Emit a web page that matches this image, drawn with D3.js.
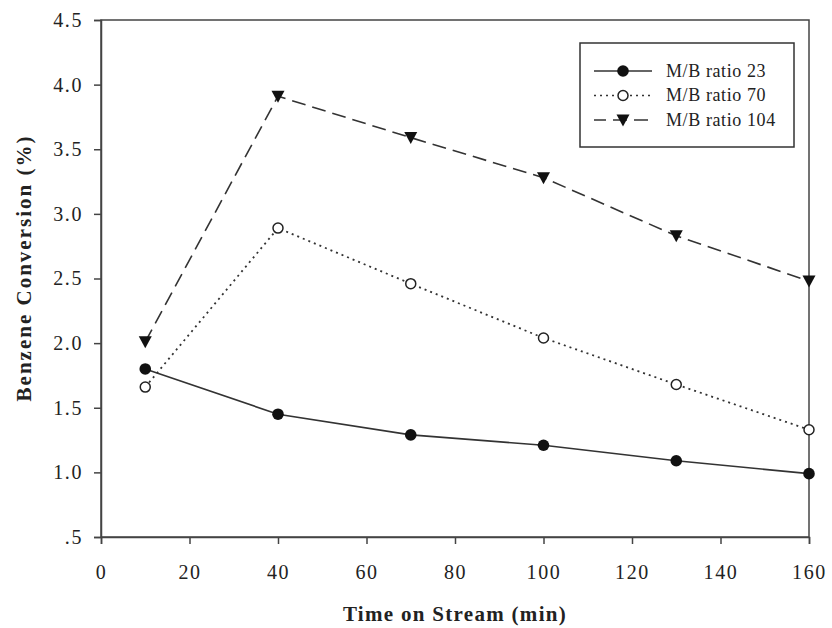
<!DOCTYPE html>
<html><head><meta charset="utf-8">
<script src="https://cdn.jsdelivr.net/npm/d3@7"></script>
<style>body{margin:0;background:#fff}svg{display:block}text{font-family:"Liberation Serif","Times New Roman",serif;fill:#222}</style>
</head><body>
<script>
const times = [10, 40, 70, 100, 130, 160];
const ratio23 = [1.80, 1.45, 1.29, 1.21, 1.09, 0.99];
const ratio70 = [1.66, 2.89, 2.46, 2.04, 1.68, 1.33];
const ratio104 = [2.01, 3.91, 3.59, 3.28, 2.83, 2.48];
const seriesNames = ["M/B ratio 23", "M/B ratio 70", "M/B ratio 104"];
const xTicks = [0, 20, 40, 60, 80, 100, 120, 140, 160];
const yTicks = [0.5, 1.0, 1.5, 2.0, 2.5, 3.0, 3.5, 4.0, 4.5];

const W = 832, H = 628;
const L = 101, R = 809, T = 20, B = 537;
const svg = d3.select("body").append("svg").attr("width", W).attr("height", H);
const x = d3.scaleLinear().domain([0, 160]).range([L, R]);
const y = d3.scaleLinear().domain([0.5, 4.5]).range([B, T]);
const stroke = "#333";

// frame
svg.append("rect").attr("x", L).attr("y", T).attr("width", R - L).attr("height", B - T)
  .attr("fill", "none").attr("stroke", "#444").attr("stroke-width", 1.5);

const xa = svg.append("g").attr("transform", `translate(0,${B})`)
  .call(d3.axisBottom(x).tickValues(xTicks).tickSize(7).tickPadding(21).tickFormat(d3.format("d")));
const ya = svg.append("g").attr("transform", `translate(${L},0)`)
  .call(d3.axisLeft(y).tickValues(yTicks).tickSize(7).tickPadding(11)
    .tickFormat(d => d === 0.5 ? ".5" : d3.format(".1f")(d)));
[xa, ya].forEach(g => {
  g.attr("font-size", 20).attr("font-family", "'Liberation Serif',serif");
  g.select(".domain").attr("stroke", "#444").attr("stroke-width", 1.5);
  g.selectAll(".tick line").attr("stroke", "#444").attr("stroke-width", 1.5);
  g.selectAll("text").style("font-family", "'Liberation Serif',serif").style("font-size", "20px")
    .style("letter-spacing", "1.6px").attr("fill", "#222");
});

const data = [ratio23, ratio70, ratio104];
const dashes = [null, "2,4", "14,7"];
const line = d3.line().x((d, i) => x(times[i])).y(d => y(d));
data.forEach((vals, k) => {
  svg.append("path").attr("d", line(vals)).attr("fill", "none").attr("stroke", stroke)
    .attr("stroke-width", k === 1 ? 1.8 : 1.6).attr("stroke-dasharray", dashes[k]);
});
function marker(g, k, cx, cy) {
  if (k === 0) g.append("circle").attr("cx", cx).attr("cy", cy).attr("r", 5.8).attr("fill", "#111");
  else if (k === 1) g.append("circle").attr("cx", cx).attr("cy", cy).attr("r", 5).attr("fill", "#fff").attr("stroke", "#222").attr("stroke-width", 1.5);
  else g.append("path").attr("d", `M${cx-6.5},${cy-5.5}L${cx+6.5},${cy-5.5}L${cx},${cy+6.5}Z`).attr("fill", "#111");
}
data.forEach((vals, k) => vals.forEach((v, i) => marker(svg, k, x(times[i]), y(v))));

// legend
const lg = svg.append("g");
lg.append("rect").attr("x", 580).attr("y", 43).attr("width", 214).attr("height", 104)
  .attr("fill", "#fff").attr("stroke", "#333").attr("stroke-width", 1.5);
seriesNames.forEach((n, k) => {
  const cy = 71 + k * 24.5;
  lg.append("line").attr("x1", 594).attr("x2", 652).attr("y1", cy).attr("y2", cy)
    .attr("stroke", stroke).attr("stroke-width", 1.6).attr("stroke-dasharray", k === 0 ? null : (k === 1 ? "2,4" : "14,7"))
    .attr("stroke-dashoffset", k === 2 ? 2 : 0);
  marker(lg, k, 623, cy);
  lg.append("text").attr("x", 666).attr("y", cy + 5.5).attr("font-size", 18).style("letter-spacing", "0.6px").text(n);
});

svg.append("text").attr("x", 455).attr("y", 621).attr("text-anchor", "middle")
  .attr("font-size", 21).attr("font-weight", "bold").style("letter-spacing", "1.3px").text("Time on Stream (min)");
svg.append("text").attr("transform", `translate(31,268) rotate(-90)`).attr("text-anchor", "middle")
  .attr("font-size", 21).attr("font-weight", "bold").style("letter-spacing", "2px").text("Benzene Conversion (%)");
</script>
</body></html>
